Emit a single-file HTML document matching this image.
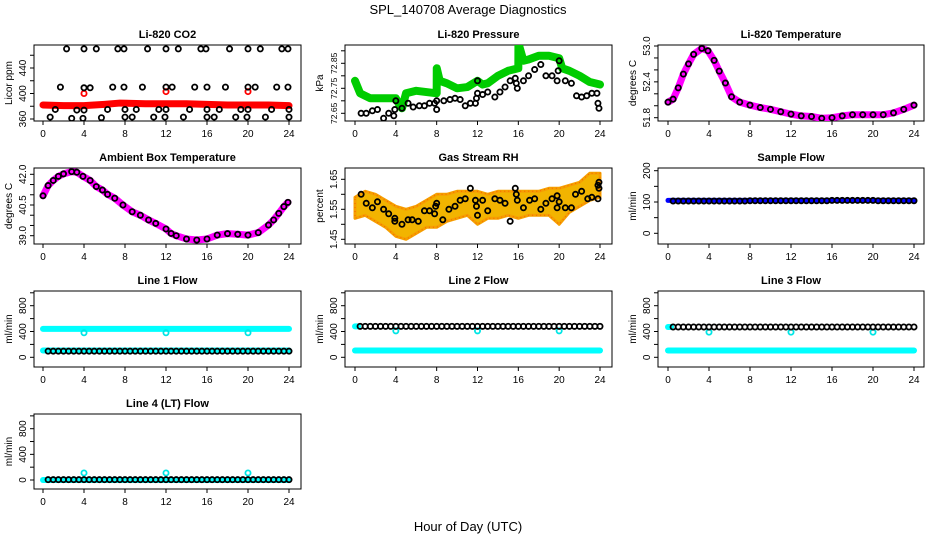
<!DOCTYPE html>
<html><head><meta charset="utf-8"><style>
html,body{margin:0;padding:0;background:#fff;}
svg{display:block;font-family:"Liberation Sans",Arial,sans-serif;}
</style></head><body>
<svg id="chart" width="936" height="540" viewBox="0 0 936 540" xmlns="http://www.w3.org/2000/svg">
<text x="468" y="14" text-anchor="middle" font-size="13">SPL_140708  Average Diagnostics</text>
<text x="468" y="531" text-anchor="middle" font-size="13">Hour of Day (UTC)</text>
</svg>
<script>
// ---------- data ----------
const xTicks = [0,4,8,12,16,20,24];
const halfHours = [0.5,1,1.5,2,2.5,3,3.5,4,4.5,5,5.5,6,6.5,7,7.5,8,8.5,9,9.5,10,10.5,11,11.5,12,12.5,13,13.5,14,14.5,15,15.5,16,16.5,17,17.5,18,18.5,19,19.5,20,20.5,21,21.5,22,22.5,23,23.5,24];

// CO2
const co2DenseHours = [0,2,4,6,7.5,10,12,14,16,18,20,22,24];
const co2DenseVals = [382,381,381,383,385,384,384,384,383,382,382,382,381];
const co2RedOutHours = [4,12,20];
const co2RedOutVals = [400,403,403];
const co2BlackHours = [2.3,4.0,5.2,7.3,7.9,10.2,12.0,13.2,15.4,15.9,18.2,20.0,21.2,23.3,23.9,
 1.7,4.0,4.6,6.8,7.9,9.7,12.0,12.6,14.8,16.0,17.8,20.0,20.7,22.8,23.9,
 1.2,3.3,4.0,6.3,8.0,9.1,11.3,12.0,14.3,16.0,17.2,19.3,20.0,22.3,24.0,
 0.7,2.8,3.9,5.7,8.0,8.7,10.8,11.9,13.7,16.0,16.7,18.8,19.9,21.7,24.0];
const co2BlackVals = [470,470,470,470,470,470,470,470,470,470,470,470,470,470,470,
 410,409,409,410,410,410,410,410,410,410,410,410,410,410,410,
 375,374,374,375,375,375,375,375,375,375,375,375,375,375,375,
 363,361,361,362,363,363,363,363,363,363,363,363,363,363,363];

// Pressure
const presDenseHours = [0,0.5,1.5,3,4,4.4,4.6,5,6,7,8,8.01,8.3,9,10,11,12,12.5,13,14,15,16,16.01,16.5,17,18,19,20,20.3,21,22,23,24];
const presDenseVals = [72.78,72.73,72.71,72.71,72.71,72.68,72.67,72.73,72.74,72.735,72.73,72.83,72.78,72.77,72.75,72.755,72.78,72.765,72.77,72.80,72.82,72.83,72.93,72.86,72.865,72.88,72.88,72.87,72.83,72.82,72.80,72.775,72.765];
const presBlackHours = [0.6,1.1,1.7,2.2,2.8,3.3,3.8,3.9,4.0,4.6,5.2,5.7,6.3,6.8,7.3,7.8,8.0,8.0,8.7,9.3,9.8,10.3,10.8,11.3,11.8,11.9,12.0,12.0,12.5,13.0,13.7,14.2,14.7,15.2,15.7,15.8,15.9,16.5,17.0,17.6,18.2,18.7,19.3,19.8,19.9,20.0,20.6,21.2,21.7,22.2,22.7,23.2,23.7,23.8,23.9];
const presBlackVals = [72.65,72.65,72.66,72.665,72.63,72.65,72.64,72.665,72.70,72.67,72.69,72.675,72.68,72.68,72.69,72.69,72.70,72.665,72.70,72.705,72.71,72.705,72.68,72.69,72.69,72.71,72.73,72.78,72.725,72.735,72.715,72.735,72.755,72.78,72.79,72.77,72.75,72.78,72.80,72.825,72.845,72.80,72.80,72.78,72.82,72.86,72.78,72.77,72.72,72.715,72.72,72.73,72.73,72.69,72.67];

// Li-820 temperature
const tempHours = [0,0.5,1,1.5,2,2.5,3.3,3.9,4.5,5,5.6,6.2,7,8,9,10,11,12,13,14,15,16,17,18,19,20,21,22,23,24];
const tempVals = [52.06,52.11,52.30,52.53,52.70,52.86,52.96,52.92,52.76,52.58,52.38,52.15,52.06,52.01,51.97,51.94,51.90,51.86,51.83,51.82,51.79,51.80,51.83,51.85,51.85,51.85,51.85,51.88,51.94,52.01];

// Ambient box temperature
const ambHours = [0,0.5,1,1.5,2,2.8,3.3,3.9,4.6,5.2,5.8,6.3,7,7.8,8.7,9.5,10.3,11,12,12.5,13,14,15,16,17,18,19,20,21,22,22.5,23,23.5,23.9];
const ambVals = [40.95,41.45,41.7,41.9,42.02,42.13,42.1,41.9,41.7,41.4,41.23,41.02,40.83,40.5,40.17,40.0,39.77,39.6,39.33,39.11,39.0,38.84,38.79,38.84,39.03,39.1,39.07,39.03,39.15,39.52,39.77,40.09,40.42,40.63];

// Gas stream RH
const rhBandHours = [0,1,2,3,4,5,6,7,8,9,10,11,12,13,14,15,16,17,18,19,20,21,22,23,24];
const rhBandLow = [1.52,1.53,1.51,1.49,1.46,1.45,1.47,1.49,1.49,1.51,1.52,1.53,1.50,1.52,1.52,1.53,1.52,1.53,1.53,1.53,1.50,1.54,1.56,1.58,1.59];
const rhBandHigh = [1.59,1.61,1.60,1.58,1.56,1.55,1.56,1.58,1.60,1.60,1.61,1.61,1.61,1.60,1.61,1.61,1.61,1.61,1.61,1.62,1.62,1.63,1.64,1.67,1.67];
const rhBlackHours = [0.6,1.1,1.7,2.2,2.8,3.3,3.9,3.9,4.6,5.2,5.6,6.2,6.8,7.3,7.8,7.9,8.0,8.6,9.2,9.8,10.3,10.8,11.3,11.8,11.9,12.0,12.5,13.0,13.7,14.2,14.7,15.2,15.7,15.8,15.9,16.5,17.1,17.6,18.2,18.7,19.3,19.8,19.8,20.0,20.6,21.2,21.6,22.2,22.8,23.2,23.8,23.8,23.9,23.9];
const rhBlackVals = [1.60,1.57,1.555,1.575,1.55,1.535,1.52,1.51,1.50,1.515,1.515,1.51,1.545,1.545,1.535,1.56,1.57,1.515,1.55,1.56,1.58,1.585,1.62,1.58,1.56,1.53,1.58,1.545,1.585,1.58,1.57,1.51,1.62,1.60,1.58,1.555,1.58,1.585,1.55,1.57,1.585,1.595,1.555,1.575,1.555,1.555,1.60,1.61,1.585,1.59,1.585,1.63,1.64,1.62];

// Flows
const flatHours = [0,24];
const sampleBlue = [105,105];
const sampleBlack = [103,103,103,103,103,103,103,103,103,103,103,103,103,103,103,104,104,104,104,104,104,104,104,104,104,104,104,104,104,104,104,105,105,105,105,105,105,105,105,105,104,104,104,104,104,104,104,104];
const line1CyanHigh = [440,440];
const line1CyanLow = [105,105];
const line1Black = [95,95,95,95,95,95,95,95,95,95,95,95,95,95,95,95,95,95,95,95,95,95,95,95,95,95,95,95,95,95,95,95,95,95,95,95,95,95,95,95,95,95,95,95,95,95,95,95];
const outlierHours = [4,12,20];
const line1Outliers = [380,380,380];
const line2CyanLow = [105,105];
const line2Black = [480,480,480,480,480,480,480,480,480,480,480,480,480,480,480,480,480,480,480,480,480,480,480,480,480,480,480,480,480,480,480,480,480,480,480,480,480,480,480,480,480,480,480,480,480,480,480,480];
const line2Outliers = [410,410,410];
const line3CyanLow = [105,105];
const line3Black = [470,470,470,470,470,470,470,470,470,470,470,470,470,470,470,470,470,470,470,470,470,470,470,470,470,470,470,470,470,470,470,470,470,470,470,470,470,470,470,470,470,470,470,470,470,470,470,470];
const line3Outliers = [390,390,390];
const line4Cyan = [0,0];
const line4Black = [5,5,5,5,5,5,5,5,5,5,5,5,5,5,5,5,5,5,5,5,5,5,5,5,5,5,5,5,5,5,5,5,5,5,5,5,5,5,5,5,5,5,5,5,5,5,5,5];
const line4Outliers = [110,110,110];

// ---------- layout ----------
const NS = 'http://www.w3.org/2000/svg';
const svg = document.getElementById('chart');
const cols = [{l:34,r:301,x0:43,x24:289},{l:345,r:612,x0:355,x24:600},{l:658,r:924,x0:668,x24:914}];
const rows = [{t:45,b:121},{t:168,b:244},{t:291,b:367},{t:414,b:489}];

function mk(tag, attrs, parent){
  const e = document.createElementNS(NS, tag);
  for (const k in attrs) e.setAttribute(k, attrs[k]);
  (parent||svg).appendChild(e);
  return e;
}

function panel(c, r, name, title, ylab, v0, p0, v1, p1, ticks, labels, decimals, lfs){
  const C = cols[c], R = rows[r];
  const g = mk('g', {});
  
  
  const xs = h => C.x0 + (C.x24 - C.x0) * h / 24;
  const ys = v => R.t + p0 + (p1 - p0) * (v - v0) / (v1 - v0);
  const box = mk('rect', {x:C.l, y:R.t, width:C.r-C.l, height:R.b-R.t, fill:'none', stroke:'#000', 'stroke-width':1}, g);
  
  
  const t = mk('text', {x:(C.l+C.r)/2, y:R.t-7, 'text-anchor':'middle', 'font-size':11, 'font-weight':'bold'}, g);
  t.textContent = title;
  
  
  const xa = mk('g', {}, g);
  
  
  xTicks.forEach(h => {
    mk('line', {x1:xs(h), x2:xs(h), y1:R.b, y2:R.b+4, stroke:'#000'}, xa);
    const tl = mk('text', {x:xs(h), y:R.b+16, 'text-anchor':'middle', 'font-size':10}, xa);
    tl.textContent = h;
    
    
  });
  const ya = mk('g', {}, g);
  
  
  ticks.forEach(v => {
    const y = ys(v);
    if (y < R.t - 1 || y > R.b + 1) return;
    mk('line', {x1:C.l-4, x2:C.l, y1:y, y2:y, stroke:'#000'}, ya);
  });
  labels.forEach(v => {
    const y = ys(v);
    const lx = C.l - 8;
    const tl = mk('text', {x:lx, y:y, 'text-anchor':'middle', 'font-size':lfs||10, transform:`rotate(-90 ${lx} ${y})`}, ya);
    tl.textContent = v.toFixed(decimals);
    
    
  });
  const ylx = C.l - 22, yly = (R.t+R.b)/2;
  const yl = mk('text', {x:ylx, y:yly, 'text-anchor':'middle', 'font-size':10, transform:`rotate(-90 ${ylx} ${yly})`}, g);
  yl.textContent = ylab;
  
  
  const clip = 'clip' + c + r;
  const cp = mk('clipPath', {id:clip}, g);
  mk('rect', {x:C.l, y:R.t, width:C.r-C.l, height:R.b-R.t}, cp);
  const plot = mk('g', {'clip-path':`url(#${clip})`}, g);
  return {xs, ys, plot, name};
}

function band(P, hours, vals, color, w, label){
  const pts = hours.map((h,i)=>P.xs(h)+','+P.ys(vals[i])).join(' ');
  const pl = mk('polyline', {points:pts, fill:'none', stroke:color, 'stroke-width':w, 'stroke-linejoin':'round', 'stroke-linecap':'round'}, P.plot);
  
  
}
function circles(P, hours, vals, color, label, rr){
  const g = mk('g', {}, P.plot);
  
  
  hours.forEach((h,i)=>{
    const ci = mk('circle', {cx:P.xs(h), cy:P.ys(vals[i]), r:rr||2.6, fill:'none', stroke:color, 'stroke-width':1.8}, g);
    
    
  });
}
function range(a,b,s){const o=[];for(let v=a;v<=b+1e-9;v+=s)o.push(+v.toFixed(4));return o;}

let P = panel(0,0,'co2','Li-820 CO2','Licor ppm',360,74,440,23,range(360,460,20),[360,400,440],0);
band(P, co2DenseHours, co2DenseVals, '#ff0000', 7, 'red-series');
circles(P, co2RedOutHours, co2RedOutVals, '#ff0000', 'red-outliers');
circles(P, co2BlackHours, co2BlackVals, '#000', 'black-series');

P = panel(1,0,'pressure','Li-820 Pressure','kPa',72.65,68.3,72.85,18.3,range(72.6,72.95,0.05),[72.65,72.75,72.85],2,8.5);
band(P, presDenseHours, presDenseVals, '#00cc00', 8, 'green-series');
circles(P, presBlackHours, presBlackVals, '#000', 'black-series');

P = panel(2,0,'licor-temp','Li-820 Temperature','degrees C',51.8,72.7,53.0,1,range(51.8,53.0,0.2),[51.8,52.4,53.0],1);
band(P, tempHours, tempVals, '#ff00ff', 7, 'magenta-series');
circles(P, tempHours, tempVals, '#000', 'black-series');

P = panel(0,1,'ambient','Ambient Box Temperature','degrees C',39.0,67.7,42.0,6.3,range(39.0,42.0,0.5),[39.0,40.5,42.0],1);
band(P, ambHours, ambVals, '#ff00ff', 7, 'magenta-series');
circles(P, ambHours, ambVals, '#000', 'black-series');

P = panel(1,1,'rh','Gas Stream RH','percent',1.45,71.3,1.65,11.3,range(1.45,1.65,0.05),[1.45,1.55,1.65],2);
{
  const up = rhBandHours.map((h,i)=>P.xs(h)+','+P.ys(rhBandHigh[i]));
  const lo = rhBandHours.map((h,i)=>P.xs(h)+','+P.ys(rhBandLow[i])).reverse();
  const pg = mk('polygon', {points:up.concat(lo).join(' '), fill:'#f2b400', stroke:'#f5a000', 'stroke-width':3, 'stroke-linejoin':'round'}, P.plot);
  
  
  const pg2 = mk('polygon', {points:up.concat(lo).join(' '), fill:'none', stroke:'#ff3300', 'stroke-width':1, 'stroke-dasharray':'1 3', opacity:0.6}, P.plot);
  
  
}
circles(P, rhBlackHours, rhBlackVals, '#000', 'black-series');

P = panel(2,1,'sample-flow','Sample Flow','ml/min',0,65.3,200,2.7,range(-50,200,50),[0,100,200],0);
band(P, flatHours, sampleBlue, '#0000ff', 5, 'blue-series');
circles(P, halfHours, sampleBlack, '#000', 'black-series');

const flowTicks = range(-200,1000,200), flowLabels=[0,400,800];
P = panel(0,2,'line1-flow','Line 1 Flow','ml/min',0,66.3,800,14.7,flowTicks,flowLabels,0);
band(P, flatHours, line1CyanHigh, '#00ffff', 6, 'cyan-high-series');
band(P, flatHours, line1CyanLow, '#00ffff', 6, 'cyan-low-series');
circles(P, outlierHours, line1Outliers, '#00e5e5', 'cyan-outliers');
circles(P, halfHours, line1Black, '#000', 'black-series');

P = panel(1,2,'line2-flow','Line 2 Flow','ml/min',0,66.3,800,14.7,flowTicks,flowLabels,0);
band(P, flatHours, line2CyanLow, '#00ffff', 6, 'cyan-low-series');
circles(P, outlierHours, line2Outliers, '#00e5e5', 'cyan-outliers');
band(P, [0,0.3], [480,480], '#00ffff', 6, 'cyan-start');
circles(P, halfHours, line2Black, '#000', 'black-series');

P = panel(2,2,'line3-flow','Line 3 Flow','ml/min',0,66.3,800,14.7,flowTicks,flowLabels,0);
band(P, flatHours, line3CyanLow, '#00ffff', 6, 'cyan-low-series');
circles(P, outlierHours, line3Outliers, '#00e5e5', 'cyan-outliers');
band(P, [0,0.3], [470,470], '#00ffff', 6, 'cyan-start');
circles(P, halfHours, line3Black, '#000', 'black-series');

P = panel(0,3,'line4-flow','Line 4 (LT) Flow','ml/min',0,66,800,14.7,flowTicks,flowLabels,0);
band(P, flatHours, line4Cyan, '#00ffff', 6, 'cyan-series');
circles(P, outlierHours, line4Outliers, '#00e5e5', 'cyan-outliers');
circles(P, halfHours, line4Black, '#000', 'black-series');
</script>
</body></html>
